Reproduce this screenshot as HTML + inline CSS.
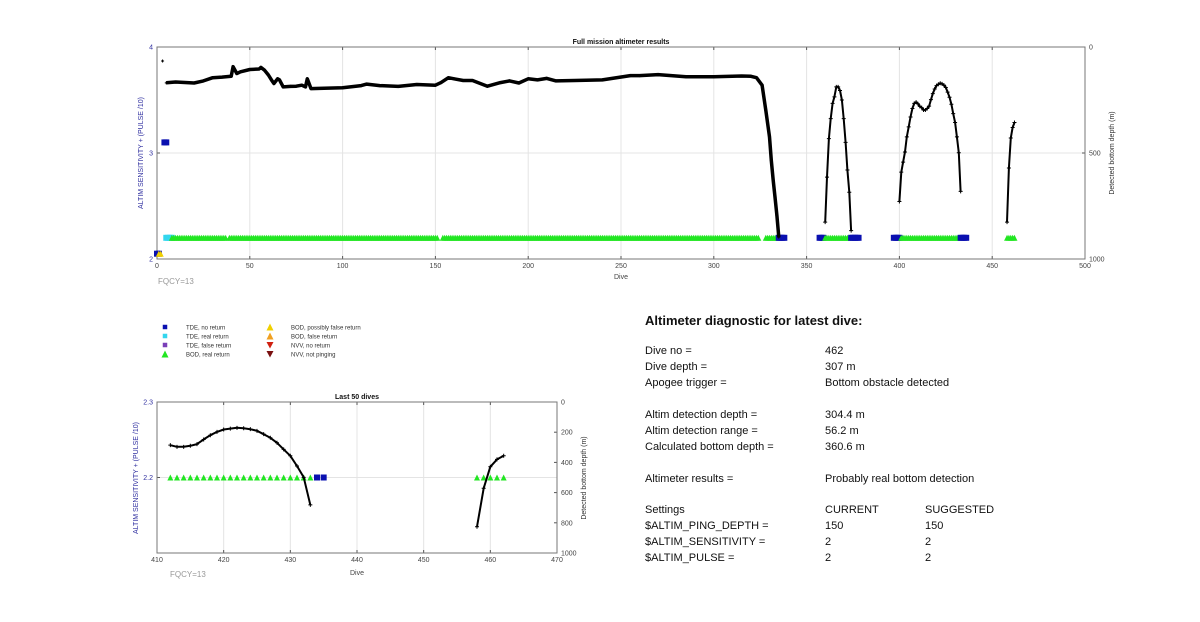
<!DOCTYPE html>
<html><head><meta charset="utf-8">
<style>
html,body{margin:0;padding:0;background:#fff;}
body{width:1200px;height:622px;position:relative;overflow:hidden;font-family:"Liberation Sans",Arial,sans-serif;}
svg text{font-family:"Liberation Sans",Arial,sans-serif;}
.diag{position:absolute;font-size:11px;color:#111;}
</style></head>
<body>
<svg id="chart" width="1200" height="622" style="position:absolute;left:0;top:0"></svg>

<div class="diag" style="left:645px;top:313px;font-size:13px;font-weight:bold;">Altimeter diagnostic for latest dive:</div>
<div id="diag"></div>

<script>
// ---------- data ----------
const fullDives  = [5,10,20,25,30,35,40,41,43,45,50,55,56,58,60,62,63,65,66,68,72,75,78,80,81,83,90,100,110,113,120,130,140,150,153,157,160,165,170,178,185,190,195,200,205,210,215,225,240,255,260,270,285,300,315,320,323,326,328,330,331,332,333,334,335];
const fullDepths = [169,165,170,160,145,142,138,93,125,117,106,104,96,110,132,160,172,150,155,188,186,185,180,188,150,196,195,192,182,175,182,186,177,180,168,145,150,158,158,185,168,160,170,150,155,148,160,158,155,135,135,130,140,140,137,138,145,180,298,424,535,629,708,795,897];
const dive2 = [360,361,362,363,364,365,366,367,368,369,370,371,372,373,374];
const depth2 = [826,614,432,338,266,235,188,188,205,250,338,450,580,685,866];
const dive3 = [400,401,402,403,404,405,406,407,408,409,410,411,412,413,414,415,416,417,418,419,420,421,422,423,424,425,426,427,428,429,430,431,432,433];
const depth3 = [729,590,543,495,424,377,330,290,266,260,268,280,286,297,297,290,279,248,220,198,182,176,171,174,180,191,213,237,270,314,356,424,499,681];
const dive4 = [458,459,460,461,462];
const depth4 = [826,571,429,380,356];
const isoDive = [3], isoDepth = [66];
// status segments (dive start/end, type, left-axis value)
const segStart = [0,1,4,5,8,39,154,328,335,357,360,374,397,401,433,458];
const segEnd   = [1,2,5,8,37,151,324,334,338,359,373,378,400,432,436,462];
const segType  = ["tde","bodp","tde","tdereal","bod","bod","bod","bod","tde","tde","bod","tde","tde","bod","tde","bod"];
const segValue = [2.05,2.05,3.1,2.2,2.2,2.2,2.2,2.2,2.2,2.2,2.2,2.2,2.2,2.2,2.2,2.2];
// last-50 markers
const lastDives = [412,413,414,415,416,417,418,419,420,421,422,423,424,425,426,427,428,429,430,431,432,433,434,435,458,459,460,461,462];
const lastType  = ["bod","bod","bod","bod","bod","bod","bod","bod","bod","bod","bod","bod","bod","bod","bod","bod","bod","bod","bod","bod","bod","bod","tde","tde","bod","bod","bod","bod","bod"];
const topXTicks = [0,50,100,150,200,250,300,350,400,450,500];
const topYTicks = [2,3,4];
const topRTicks = [0,500,1000];
const botXTicks = [410,420,430,440,450,460,470];
const botYTicks = [2.2,2.3];
const botRTicks = [0,200,400,600,800,1000];
const colors = {tde:"#0a10b0",tdereal:"#33d6ee",tdefalse:"#7a3fb8",bod:"#22e622",bodp:"#f0d000",bodf:"#f0a020",nvvno:"#d02010",nvvnp:"#7a1010"};

// ---------- helpers ----------
const NS="http://www.w3.org/2000/svg";
const svg=document.getElementById('chart');
function mk(tag,attrs,parent){const e=document.createElementNS(NS,tag);for(const k in attrs)e.setAttribute(k,attrs[k]);(parent||svg).appendChild(e);return e;}
function txt(x,y,s,opts,name){const t=mk('text',Object.assign({x:x,y:y,'font-size':7,fill:'#444'},opts||{}));t.textContent=s;


return t;}

function axes(cfg){
  const {x0,x1,y0,y1,xmin,xmax,lmin,lmax,rmin,rmax}=cfg;
  const X=d=>x0+(d-xmin)/(xmax-xmin)*(x1-x0);
  const YL=v=>y1-(v-lmin)/(lmax-lmin)*(y1-y0);
  const YR=v=>y0+(v-rmin)/(rmax-rmin)*(y1-y0);
  const g=mk('g',{});
  
  
  const frame=mk('rect',{x:x0,y:y0,width:x1-x0,height:y1-y0,fill:'#fff',stroke:'none'},g);
  
  
  cfg.xt.forEach(t=>{const x=X(t);
    const l=mk('line',{x1:x,x2:x,y1:y0,y2:y1,stroke:'#e4e4e4','stroke-width':1},g);
    
    
    mk('line',{x1:x,x2:x,y1:y1,y2:y1-3,stroke:'#555'},g);
    mk('line',{x1:x,x2:x,y1:y0,y2:y0+3,stroke:'#555'},g);
    txt(x,y1+9,String(t),{'text-anchor':'middle'},'x-tick-label');});
  cfg.yt.forEach(t=>{const y=YL(t);
    const l=mk('line',{x1:x0,x2:x1,y1:y,y2:y,stroke:'#e4e4e4','stroke-width':1},g);
    
    
    mk('line',{x1:x0,x2:x0+3,y1:y,y2:y,stroke:'#555'},g);
    txt(x0-4,y+2.5,String(t),{'text-anchor':'end',fill:'#3030a0'},'left-tick-label');});
  cfg.rt.forEach(t=>{const y=YR(t);
    mk('line',{x1:x1,x2:x1-3,y1:y,y2:y,stroke:'#555'},g);
    txt(x1+4,y+2.5,String(t),{'text-anchor':'start'},'right-tick-label');});
  const b=mk('rect',{x:x0,y:y0,width:x1-x0,height:y1-y0,fill:'none',stroke:'#777','stroke-width':1},g);
  
  
  return {X,YL,YR};
}
function marker(x,y,type,s){
  let e;
  if(type.startsWith('tde')) e=mk('rect',{x:x-s/2,y:y-s/2,width:s,height:s,fill:colors[type]});
  else e=mk('polygon',{points:`${x-s/2},${y+s/2} ${x+s/2},${y+s/2} ${x},${y-s/2}`,fill:colors[type]});
  return e;
}
function depthLine(A,ds,vs,w,name,cross){
  const pts=ds.map((d,i)=>A.X(d).toFixed(1)+','+A.YR(vs[i]).toFixed(1)).join(' ');
  const p=mk('polyline',{points:pts,fill:'none',stroke:'#000','stroke-width':w,'stroke-linejoin':'round'});
  
  
  ds.forEach((d,i)=>{const x=A.X(d),y=A.YR(vs[i]);
    mk('path',{d:`M${x-cross},${y}H${x+cross}M${x},${y-cross}V${y+cross}`,stroke:'#000','stroke-width':1});});
}

// ---------- top chart ----------
const T=axes({name:'full-mission-chart',x0:157,x1:1085,y0:47,y1:259,xmin:0,xmax:500,lmin:2,lmax:4,rmin:0,rmax:1000,xt:topXTicks,yt:topYTicks,rt:topRTicks});
segStart.forEach((s,i)=>{
  const ty=segType[i], y=T.YL(segValue[i]);
  for(let d=s; d<=segEnd[i]; d+=1){const m=marker(T.X(d),y,ty,6);
    
    }
});
depthLine(T,fullDives,fullDepths,3.5,'depth-line-main',1.5);
depthLine(T,dive2,depth2,2,'depth-line-360s',2);
depthLine(T,dive3,depth3,2,'depth-line-400s',2);
depthLine(T,dive4,depth4,2,'depth-line-458',2);
depthLine(T,isoDive,isoDepth,2,'depth-point-early',1.5);
txt(621,44,'Full mission altimeter results',{'text-anchor':'middle','font-weight':'bold',fill:'#111'},'top-chart-title');
txt(621,279,'Dive',{'text-anchor':'middle'},'top-x-axis-title');
txt(143,153,'ALTIM SENSITIVITY + (PULSE /10)',{'text-anchor':'middle',fill:'#3030a0',transform:'rotate(-90 143 153)'},'top-left-axis-title');
txt(1114,153,'Detected bottom depth (m)',{'text-anchor':'middle',fill:'#333',transform:'rotate(-90 1114 153)'},'top-right-axis-title');
txt(158,284,'FQCY=13',{'font-size':8,fill:'#999'},'top-fqcy-label');

// ---------- legend ----------
const legItems=[["tde","TDE, no return",165,327],["tdereal","TDE, real return",165,336],["tdefalse","TDE, false return",165,345],["bod","BOD, real return",165,354],
["bodp","BOD, possibly false return",270,327],["bodf","BOD, false return",270,336],["nvvno","NVV, no return",270,345],["nvvnp","NVV, not pinging",270,354]];
legItems.forEach(it=>{
  let m;
  if(it[0].startsWith('nvv')) m=mk('polygon',{points:`${it[2]-3.5},${it[3]-3} ${it[2]+3.5},${it[3]-3} ${it[2]},${it[3]+3.5}`,fill:colors[it[0]]});
  else m=marker(it[2],it[3],it[0],it[0].startsWith('tde')?4.5:7);
  
  
  txt(it[2]+21,it[3]+2.5,it[1],{'font-size':6,fill:'#333'},'legend-label');
});

// ---------- bottom chart ----------
const B=axes({name:'last-50-chart',x0:157,x1:557,y0:402,y1:553,xmin:410,xmax:470,lmin:2.1,lmax:2.3,rmin:0,rmax:1000,xt:botXTicks,yt:botYTicks,rt:botRTicks});
lastDives.forEach((d,i)=>{const m=marker(B.X(d),B.YL(2.2),lastType[i],6);
  
  });
depthLine(B,dive3.filter(d=>d>=412),depth3.slice(dive3.indexOf(412)),2,'last50-depth-line-a',2);
depthLine(B,dive4,depth4,2,'last50-depth-line-b',2);
txt(357,399,'Last 50 dives',{'text-anchor':'middle','font-weight':'bold',fill:'#111'},'bottom-chart-title');
txt(357,575,'Dive',{'text-anchor':'middle'},'bottom-x-axis-title');
txt(138,478,'ALTIM SENSITIVITY + (PULSE /10)',{'text-anchor':'middle',fill:'#3030a0',transform:'rotate(-90 138 478)'},'bottom-left-axis-title');
txt(586,478,'Detected bottom depth (m)',{'text-anchor':'middle',fill:'#333',transform:'rotate(-90 586 478)'},'bottom-right-axis-title');
txt(170,577,'FQCY=13',{'font-size':8,fill:'#999'},'bottom-fqcy-label');

// ---------- diagnostic text ----------
const rows=[[352,"Dive no =","462",""],[368,"Dive depth =","307 m",""],[384,"Apogee trigger =","Bottom obstacle detected",""],
[416,"Altim detection depth =","304.4 m",""],[432,"Altim detection range =","56.2 m",""],[448,"Calculated bottom depth =","360.6 m",""],
[480,"Altimeter results =","Probably real bottom detection",""],
[511,"Settings","CURRENT","SUGGESTED"],[527,"$ALTIM_PING_DEPTH =","150","150"],[543,"$ALTIM_SENSITIVITY =","2","2"],[559,"$ALTIM_PULSE =","2","2"]];
const dg=document.getElementById('diag');
rows.forEach(r=>{
  [[645,r[1]],[825,r[2]],[925,r[3]]].forEach(c=>{
    if(!c[1])return;
    const d=document.createElement('div');
    d.className='diag';d.style.left=c[0]+'px';d.style.top=(r[0]-7)+'px';d.textContent=c[1];
    
    
    dg.appendChild(d);
  });
});
</script>
</body></html>
